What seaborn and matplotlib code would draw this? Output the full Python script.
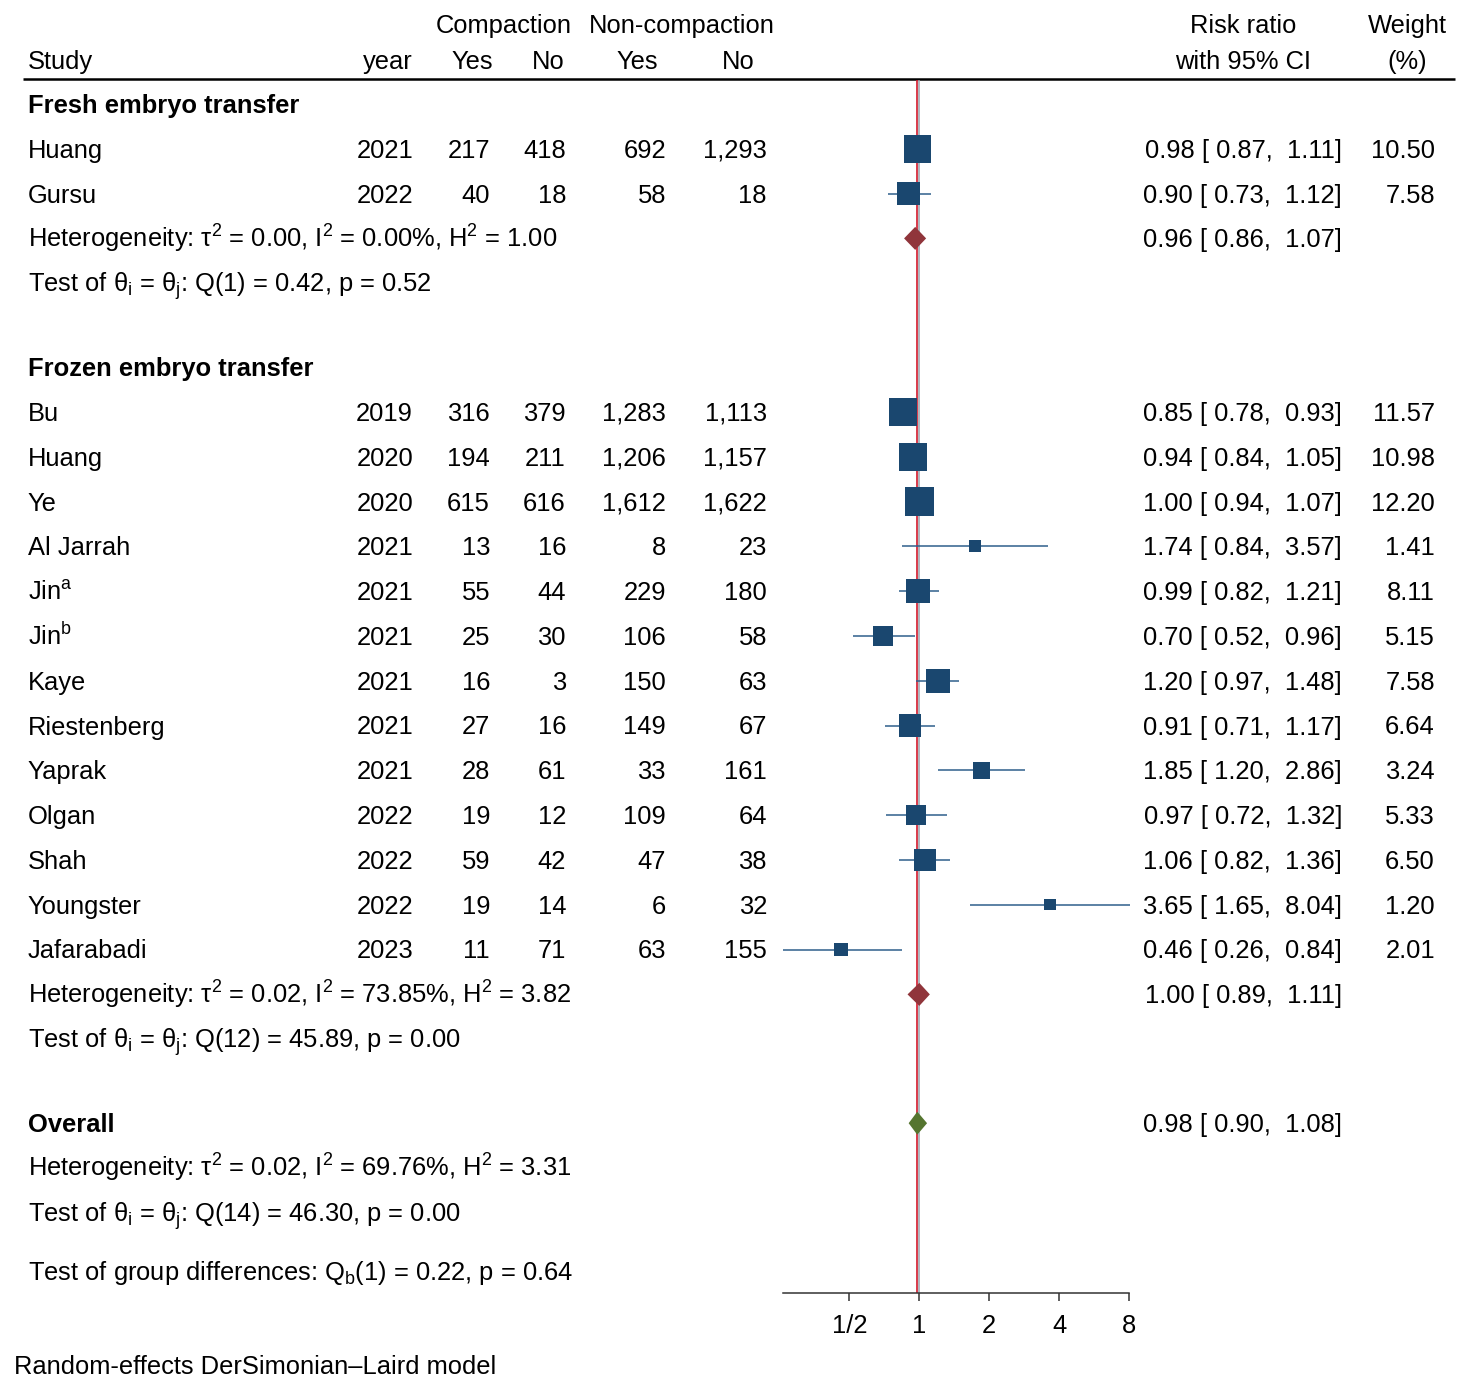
import numpy as np
import pandas as pd
import matplotlib
matplotlib.use("Agg")
import matplotlib.pyplot as plt
import seaborn as sns

sns.set_theme(style="white")
plt.rcParams['font.family'] = ['Liberation Sans', 'DejaVu Sans']
plt.rcParams['mathtext.fontset'] = 'custom'
plt.rcParams['mathtext.rm'] = 'Liberation Sans'
plt.rcParams['mathtext.it'] = 'Liberation Sans:italic'
plt.rcParams['mathtext.bf'] = 'Liberation Sans:bold'

# ---------------- data ----------------
group_names = ["Fresh embryo transfer", "Frozen embryo transfer"]

fresh_study = ["Huang", "Gursu"]
fresh_year = [2021, 2022]
fresh_comp_yes = [217, 40]
fresh_comp_no = [418, 18]
fresh_non_yes = [692, 58]
fresh_non_no = [1293, 18]
fresh_rr = [0.98, 0.90]
fresh_lo = [0.87, 0.73]
fresh_hi = [1.11, 1.12]
fresh_wt = [10.50, 7.58]

frozen_study = ["Bu", "Huang", "Ye", "Al Jarrah", r"Jin$^\mathrm{a}$", r"Jin$^\mathrm{b}$",
                "Kaye", "Riestenberg", "Yaprak", "Olgan", "Shah", "Youngster", "Jafarabadi"]
frozen_year = [2019, 2020, 2020, 2021, 2021, 2021, 2021, 2021, 2021, 2022, 2022, 2022, 2023]
frozen_comp_yes = [316, 194, 615, 13, 55, 25, 16, 27, 28, 19, 59, 19, 11]
frozen_comp_no = [379, 211, 616, 16, 44, 30, 3, 16, 61, 12, 42, 14, 71]
frozen_non_yes = [1283, 1206, 1612, 8, 229, 106, 150, 149, 33, 109, 47, 6, 63]
frozen_non_no = [1113, 1157, 1622, 23, 180, 58, 63, 67, 161, 64, 38, 32, 155]
frozen_rr = [0.85, 0.94, 1.00, 1.74, 0.99, 0.70, 1.20, 0.91, 1.85, 0.97, 1.06, 3.65, 0.46]
frozen_lo = [0.78, 0.84, 0.94, 0.84, 0.82, 0.52, 0.97, 0.71, 1.20, 0.72, 0.82, 1.65, 0.26]
frozen_hi = [0.93, 1.05, 1.07, 3.57, 1.21, 0.96, 1.48, 1.17, 2.86, 1.32, 1.36, 8.04, 0.84]
frozen_wt = [11.57, 10.98, 12.20, 1.41, 8.11, 5.15, 7.58, 6.64, 3.24, 5.33, 6.50, 1.20, 2.01]

sub_rr = [0.96, 1.00]
sub_lo = [0.86, 0.89]
sub_hi = [1.07, 1.11]
sub_tau2 = [0.00, 0.02]
sub_I2 = [0.00, 73.85]
sub_H2 = [1.00, 3.82]
sub_df = [1, 12]
sub_Q = [0.42, 45.89]
sub_p = [0.52, 0.00]

overall_rr, overall_lo, overall_hi = 0.98, 0.90, 1.08
overall_tau2, overall_I2, overall_H2 = 0.02, 69.76, 3.31
overall_df, overall_Q, overall_p = 14, 46.30, 0.00
qb_df, qb_val, qb_p = 1, 0.22, 0.64

tick_vals = [0.5, 1, 2, 4, 8]
tick_labels = ["1/2", "1", "2", "4", "8"]

groups = [
    dict(study=fresh_study, year=fresh_year, cy=fresh_comp_yes, cn=fresh_comp_no,
         ny=fresh_non_yes, nn=fresh_non_no, rr=fresh_rr, lo=fresh_lo, hi=fresh_hi, wt=fresh_wt),
    dict(study=frozen_study, year=frozen_year, cy=frozen_comp_yes, cn=frozen_comp_no,
         ny=frozen_non_yes, nn=frozen_non_no, rr=frozen_rr, lo=frozen_lo, hi=frozen_hi, wt=frozen_wt),
]

# ---------------- layout ----------------
W, H = 1460, 1381
FS = 18.4
BASE = 8.9            # px offset center -> baseline
STEP = 44.8
NAVY = "#1a476f"
CI_COL = "#2f5f8c"
MAROON = "#90353b"
GREEN = "#55752f"
REDLINE = "#d2182b"
GREYLINE = "#9aa3ad"

X_LABEL = 28
X_YEAR = 413
X_CY = 490
X_CN = 566
X_NY = 666
X_NN = 767
X_RR = 1342
X_WT = 1435

PX_ONE = 919.3
PX_PER_DOUBLING = 70.0
AX_L, AX_R = 770, 1140

fig = plt.figure(figsize=(W / 100, H / 100), dpi=100)
fig.patch.set_facecolor("white")
ax_t = fig.add_axes([0, 0, 1, 1])
ax_t.set_xlim(0, W)
ax_t.set_ylim(H, 0)
ax_t.axis("off")

ax = fig.add_axes([AX_L / W, 0, (AX_R - AX_L) / W, 1])
ax.patch.set_alpha(0)


def txt(x, y, s, ha="left", weight="normal"):
    ax_t.text(x, y + BASE, s, ha=ha, va="baseline", fontsize=FS, fontweight=weight, color="black")


def fmt_ci(r, l, h):
    return f"{r:.2f} [ {l:.2f},  {h:.2f}]"


def het_str(t, i2, h2):
    return rf"Heterogeneity: τ$^2$ = {t:.2f}, I$^2$ = {i2:.2f}%, H$^2$ = {h2:.2f}"


def test_str(df, q, p):
    return rf"Test of θ$_\mathrm{{i}}$ = θ$_\mathrm{{j}}$: Q({df}) = {q:.2f}, p = {p:.2f}"


# headers
txt(572, 24, "Compaction", ha="right")
txt(775, 24, "Non-compaction", ha="right")
txt(X_LABEL, 60, "Study")
txt(X_YEAR, 60, "year", ha="right")
txt(493, 60, "Yes", ha="right")
txt(565, 60, "No", ha="right")
txt(658, 60, "Yes", ha="right")
txt(755, 60, "No", ha="right")
txt(1243, 24, "Risk ratio", ha="center")
txt(1243, 60, "with 95% CI", ha="center")
txt(1407, 24, "Weight", ha="center")
txt(1407, 60, "(%)", ha="center")
ax_t.plot([23, 1455], [79, 79], color="black", lw=1.8, solid_capstyle="butt")

pts_rr, pts_y, pts_w, pts_lo, pts_hi = [], [], [], [], []
y = 104
for gi, g in enumerate(groups):
    txt(X_LABEL, y, group_names[gi], weight="bold")
    for k in range(len(g["study"])):
        y += STEP
        txt(X_LABEL, y, g["study"][k])
        txt(X_YEAR, y, f"{g['year'][k]}", ha="right")
        txt(X_CY, y, f"{g['cy'][k]:,}", ha="right")
        txt(X_CN, y, f"{g['cn'][k]:,}", ha="right")
        txt(X_NY, y, f"{g['ny'][k]:,}", ha="right")
        txt(X_NN, y, f"{g['nn'][k]:,}", ha="right")
        txt(X_RR, y, fmt_ci(g["rr"][k], g["lo"][k], g["hi"][k]), ha="right")
        txt(X_WT, y, f"{g['wt'][k]:.2f}", ha="right")
        pts_rr.append(g["rr"][k]); pts_y.append(y); pts_w.append(g["wt"][k])
        pts_lo.append(g["lo"][k]); pts_hi.append(g["hi"][k])
    y += STEP
    txt(X_LABEL, y, het_str(sub_tau2[gi], sub_I2[gi], sub_H2[gi]))
    txt(X_RR, y, fmt_ci(sub_rr[gi], sub_lo[gi], sub_hi[gi]), ha="right")
    ax.fill([sub_lo[gi], sub_rr[gi], sub_hi[gi], sub_rr[gi]],
            [y, y - 11.5, y, y + 11.5], color=MAROON, lw=0, zorder=5)
    y += STEP
    txt(X_LABEL, y, test_str(sub_df[gi], sub_Q[gi], sub_p[gi]))
    y += 84

# overall
y_ov = y
txt(X_LABEL, y_ov, "Overall", weight="bold")
txt(X_RR, y_ov, fmt_ci(overall_rr, overall_lo, overall_hi), ha="right")
ax.fill([overall_lo, overall_rr, overall_hi, overall_rr],
        [y_ov, y_ov - 11.5, y_ov, y_ov + 11.5], color=GREEN, lw=0, zorder=5)
txt(X_LABEL, y_ov + STEP, het_str(overall_tau2, overall_I2, overall_H2))
txt(X_LABEL, y_ov + 2 * STEP, test_str(overall_df, overall_Q, overall_p))
txt(X_LABEL, y_ov + 2 * STEP + 58,
    rf"Test of group differences: Q$_\mathrm{{b}}$({qb_df}) = {qb_val:.2f}, p = {qb_p:.2f}")
txt(14, 1365, "Random-effects DerSimonian–Laird model")

# ---------------- forest panel ----------------
Y_AXIS = 1293
ax.set_xscale("log", base=2)
ax.vlines(1, 80, Y_AXIS, color=GREYLINE, lw=1.1, zorder=1)
ax.vlines(overall_rr, 80, Y_AXIS, color=REDLINE, lw=1.2, zorder=2)
ax.hlines(pts_y, pts_lo, pts_hi, color=CI_COL, lw=1.1, zorder=3)

df_pts = pd.DataFrame({"rr": pts_rr, "y": pts_y, "w": pts_w})
sns.scatterplot(data=df_pts, x="rr", y="y", size="w", sizes=(66, 450),
                size_norm=(min(pts_w), max(pts_w)), marker="s", color=NAVY,
                linewidth=0, legend=False, ax=ax, zorder=4)

ax.set_xlim(2 ** ((AX_L - PX_ONE) / PX_PER_DOUBLING), 2 ** ((AX_R - PX_ONE) / PX_PER_DOUBLING))
ax.set_ylim(H, 0)
ax.set_xlabel("")
ax.set_ylabel("")
ax.set_yticks([])
for sp in ["top", "left", "right"]:
    ax.spines[sp].set_visible(False)
ax.spines["bottom"].set_position(("data", Y_AXIS))
ax.spines["bottom"].set_bounds(min(pts_lo), max(tick_vals))
ax.spines["bottom"].set_color("#333333")
ax.spines["bottom"].set_linewidth(1.1)
ax.set_xticks(tick_vals)
ax.set_xticklabels(tick_labels)
ax.xaxis.set_minor_locator(matplotlib.ticker.NullLocator())
ax.tick_params(axis="x", which="major", direction="out", length=6, width=1.1,
               color="#333333", labelsize=FS, pad=9, bottom=True, labelcolor="black")
ax.grid(False)

fig.savefig("out.png", dpi=100, facecolor="white")
